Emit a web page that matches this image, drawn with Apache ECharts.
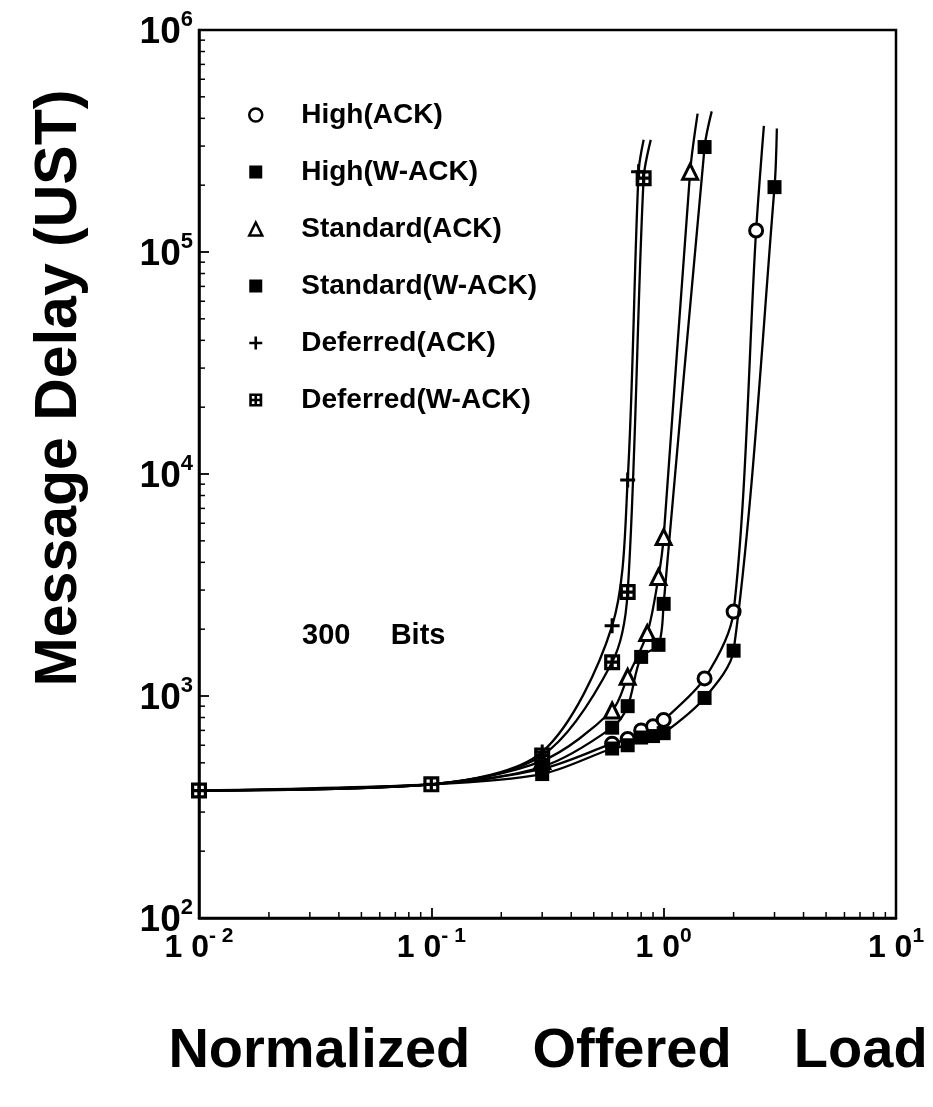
<!DOCTYPE html>
<html>
<head>
<meta charset="utf-8">
<script src="https://cdn.jsdelivr.net/npm/echarts@6/dist/echarts.min.js"></script>
<style>
html,body{margin:0;padding:0;background:#fff;}
#chart{width:933px;height:1107px;}
</style>
</head>
<body>
<div id="chart"></div>
<script>
// ---- data ----
const seriesNames = ['High(ACK)', 'High(W-ACK)', 'Standard(ACK)', 'Standard(W-ACK)', 'Deferred(ACK)', 'Deferred(W-ACK)'];

const highAck = [[0.01,375],[0.1,400],[0.3,470],[0.6,610],[0.7,640],[0.8,700],[0.9,730],[1.0,780],[1.5,1200],[2.0,2400],[2.5,125000]];
const highAckEnd = [2.70, 370000];

const highWAck = [[0.01,375],[0.1,400],[0.3,445],[0.6,580],[0.7,600],[0.8,650],[0.9,660],[1.0,680],[1.5,980],[2.0,1600],[3.0,196000]];
const highWAckEnd = [3.07, 360000];

const stdAck = [[0.01,375],[0.1,400],[0.3,510],[0.6,860],[0.7,1220],[0.85,1920],[0.95,3440],[1.0,5200],[1.3,230000]];
const stdAckEnd = [1.40, 420000];

const stdWAck = [[0.01,375],[0.1,400],[0.3,480],[0.6,720],[0.7,900],[0.8,1500],[0.95,1700],[1.0,2600],[1.5,297000]];
const stdWAckEnd = [1.61, 430000];

const defAck = [[0.01,375],[0.1,400],[0.3,560],[0.6,2070],[0.7,9400],[0.78,230000]];
const defAckEnd = [0.82, 320000];

const defWAck = [[0.01,375],[0.1,400],[0.3,540],[0.6,1420],[0.7,2940],[0.82,215000]];
const defWAckEnd = [0.88, 320000];

// loads where all six curves share one point (only the top marker shows)
const sharedLoads = [0.01, 0.1];

const xTickExponents = [-2, -1, 0, 1];
const yTickExponents = [2, 3, 4, 5, 6];
const minorMultipliers = [2, 3, 4, 5, 6, 7, 8, 9];
const annotation = '300     Bits';
const xTitle = 'Normalized    Offered    Load';
const yTitle = 'Message Delay (UST)';

// ---- chart ----
const FONT = '"Liberation Sans", Arial, Helvetica, sans-serif';
const plusPath = 'path://M4 0H6V4H10V6H6V10H4V6H0V4H4Z';
const dotSquarePath = 'path://M0 0H10V10H0Z M2 2V4H4V2Z M6 2V4H8V2Z M2 6V8H4V6Z M6 6V8H8V6Z';

const symbols = [
  {symbol:'circle', size:13, style:{color:'#fff', borderColor:'#000', borderWidth:3}},
  {symbol:'rect', size:14, style:{color:'#000'}},
  {symbol:'triangle', size:15, style:{color:'#fff', borderColor:'#000', borderWidth:3}},
  {symbol:'rect', size:14, style:{color:'#000'}},
  {symbol:plusPath, size:15, style:{color:'#000'}},
  {symbol:dotSquarePath, size:16, style:{color:'#000'}}
];
const dataSets = [highAck, highWAck, stdAck, stdWAck, defAck, defWAck];
const ends = [highAckEnd, highWAckEnd, stdAckEnd, stdWAckEnd, defAckEnd, defWAckEnd];
const lastIdx = seriesNames.length - 1;

const lineSeries = seriesNames.map((name, i) => ({
  name: name,
  type: 'line',
  data: dataSets[i].map(d => (i !== lastIdx && sharedLoads.indexOf(d[0]) >= 0) ? {value: d, symbol: 'none'} : {value: d})
        .concat([{value: ends[i], symbol: 'none'}]),
  symbol: symbols[i].symbol,
  symbolSize: symbols[i].size,
  showAllSymbol: true,
  smooth: 0.3,
  lineStyle: {color:'#000', width:2.3},
  itemStyle: symbols[i].style,
  emphasis: {disabled: true},
  z: 3 + i
}));

const xMinor = [];
[0.01, 0.1, 1].forEach(d => minorMultipliers.forEach(m => xMinor.push([d * m, 100])));
const yMinor = [];
[100, 1000, 10000, 100000].forEach(d => minorMultipliers.forEach(m => yMinor.push([0.01, d * m])));

const minorX = {
  type:'custom', silent:true, clip:false, z:2,
  data: xMinor,
  renderItem: (p, api) => {
    const pt = api.coord([api.value(0), api.value(1)]);
    return {type:'line', shape:{x1:pt[0], y1:pt[1], x2:pt[0], y2:pt[1]-6}, style:{stroke:'#000', lineWidth:1.5}};
  }
};
const minorY = {
  type:'custom', silent:true, clip:false, z:2,
  data: yMinor,
  renderItem: (p, api) => {
    const pt = api.coord([api.value(0), api.value(1)]);
    return {type:'line', shape:{x1:pt[0], y1:pt[1], x2:pt[0]+6, y2:pt[1]}, style:{stroke:'#000', lineWidth:1.5}};
  }
};

const chart = echarts.init(document.getElementById('chart'), null, {renderer:'canvas'});
chart.setOption({
  animation: false,
  backgroundColor: '#fff',
  textStyle: {fontFamily: FONT},
  grid: {left:199, right:37, top:30, bottom:189, show:true, borderColor:'#000', borderWidth:2.5, backgroundColor:'transparent'},
  xAxis: {
    type:'log', logBase:10,
    min: Math.pow(10, xTickExponents[0]), max: Math.pow(10, xTickExponents[xTickExponents.length-1]),
    splitLine:{show:false},
    axisLine:{show:true, onZero:false, lineStyle:{color:'#000', width:2.5}},
    axisTick:{show:true, inside:true, length:10, lineStyle:{color:'#000', width:1.8}},
    axisLabel:{
      margin: 8,
      formatter: v => {
        const e = Math.round(Math.log10(v));
        return '{b|1 0}{s|' + (e < 0 ? '- ' + (-e) : e) + '}';
      },
      rich: {
        b:{fontSize:32, fontWeight:'bold', fontFamily:FONT, color:'#000', verticalAlign:'bottom', lineHeight:38},
        s:{fontSize:21, fontWeight:'bold', fontFamily:FONT, color:'#000', verticalAlign:'top'}
      }
    }
  },
  yAxis: {
    type:'log', logBase:10,
    min: Math.pow(10, yTickExponents[0]), max: Math.pow(10, yTickExponents[yTickExponents.length-1]),
    splitLine:{show:false},
    axisLine:{show:true, onZero:false, lineStyle:{color:'#000', width:2.5}},
    axisTick:{show:true, inside:true, length:10, lineStyle:{color:'#000', width:1.8}},
    axisLabel:{
      margin: 6,
      formatter: v => '{b|10}{s|' + Math.round(Math.log10(v)) + '}',
      rich: {
        b:{fontSize:37, fontWeight:'bold', fontFamily:FONT, color:'#000', verticalAlign:'bottom', lineHeight:42},
        s:{fontSize:22, fontWeight:'bold', fontFamily:FONT, color:'#000', verticalAlign:'top'}
      }
    }
  },
  legend: {
    orient:'vertical', left:243, top:93, itemGap:23,
    itemWidth:13, itemHeight:13,
    selectedMode:false,
    textStyle:{fontSize:28, fontWeight:'bold', fontFamily:FONT, color:'#000', lineHeight:34, padding:[0,0,0,34]},
    data: seriesNames.map((n, i) => ({
      name: n,
      icon: symbols[i].symbol,
      itemStyle: Object.assign({}, symbols[i].style, {borderWidth: symbols[i].style.borderWidth ? 2.5 : 0})
    }))
  },
  graphic: [
    {type:'text', x:60, y:388, rotation:Math.PI/2,
     style:{text:yTitle, fontSize:59, fontWeight:'bold', fontFamily:FONT, fill:'#000', textAlign:'center', textVerticalAlign:'middle', align:'center', verticalAlign:'middle'}},
    {type:'text', x:548, y:1052,
     style:{text:xTitle, fontSize:56, fontWeight:'bold', fontFamily:FONT, fill:'#000', textAlign:'center', textVerticalAlign:'middle', align:'center', verticalAlign:'middle'}},
    {type:'text', x:302, y:636,
     style:{text:annotation, fontSize:29, fontWeight:'bold', fontFamily:FONT, fill:'#000', textAlign:'left', textVerticalAlign:'middle', align:'left', verticalAlign:'middle'}}
  ],
  series: lineSeries.concat([minorX, minorY])
});
</script>
</body>
</html>
